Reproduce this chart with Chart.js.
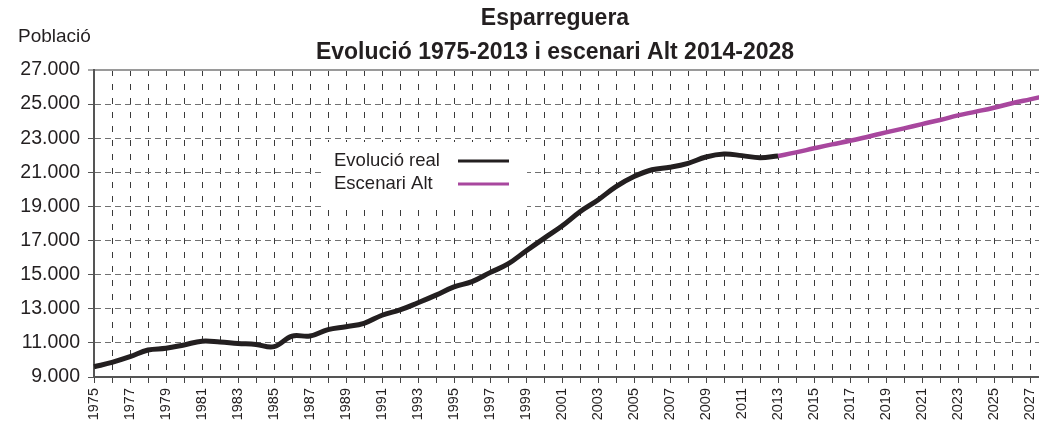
<!DOCTYPE html>
<html>
<head>
<meta charset="utf-8">
<script src="https://cdn.jsdelivr.net/npm/chart.js@4/dist/chart.umd.min.js"></script>
<style>
  html, body { margin: 0; padding: 0; background: #fff; }
  #wrap { width: 1039px; height: 427px; overflow: hidden; position: relative; }
  #chart { display: block; }
</style>
</head>
<body>
<div id="wrap"><canvas id="chart" width="1110" height="427"></canvas></div>
<script>
// Població d'Esparreguera, evolució real i escenari Alt
const years = [];
for (let y = 1975; y <= 2028; y++) years.push(String(y));

const realYears = ['1975','1976','1977','1978','1979','1980','1981','1982','1983','1984',
  '1985','1986','1987','1988','1989','1990','1991','1992','1993','1994',
  '1995','1996','1997','1998','1999','2000','2001','2002','2003','2004',
  '2005','2006','2007','2008','2009','2010','2011','2012','2013'];
const realValues = [9600, 9860, 10190, 10580, 10680, 10880, 11100, 11050, 10970, 10910,
  10780, 11400, 11400, 11780, 11950, 12150, 12620, 12930, 13350, 13800,
  14280, 14590, 15120, 15630, 16390, 17130, 17850, 18690, 19380, 20160,
  20750, 21150, 21300, 21530, 21900, 22070, 21980, 21860, 21960];

const altYears = ['2013','2014','2015','2016','2017','2018','2019','2020','2021','2022',
  '2023','2024','2025','2026','2027','2028'];
const altValues = [21960, 22170, 22410, 22640, 22850, 23090, 23340, 23580, 23830, 24070,
  24340, 24560, 24790, 25050, 25280, 25510];

const yTicks = [9000, 11000, 13000, 15000, 17000, 19000, 21000, 23000, 25000, 27000];

const FONT = "'Liberation Sans', Arial, sans-serif";
const INK = '#231f20';
const PURPLE = '#a8479e';

// align a series to the full year axis
function onAxis(ys, vals) {
  return years.map(y => {
    const i = ys.indexOf(y);
    return i >= 0 ? vals[i] : null;
  });
}

const fmt = v => String(v).replace(/\B(?=(\d{3})+(?!\d))/g, '.');

// legend box, "Població" label, title centred on the original sheet width
const decorPlugin = {
  id: 'decor',
  afterLayout(chart) {
    const t = chart.titleBlock;
    if (t) { t.left += 31; t.right += 31; }
  },
  beforeDatasetsDraw(chart) {
    const ctx = chart.ctx;
    ctx.save();
    ctx.fillStyle = '#fff';
    ctx.fillRect(325, 142, 202, 67);
    ctx.font = '18.5px ' + FONT;
    ctx.textBaseline = 'middle';
    ctx.textAlign = 'left';
    chart.data.datasets.forEach((ds, i) => {
      const y = 161 + i * 23;
      ctx.fillStyle = INK;
      ctx.fillText(ds.label, 334, y);
      ctx.strokeStyle = ds.borderColor;
      ctx.lineWidth = 3;
      ctx.beginPath();
      ctx.moveTo(458, y);
      ctx.lineTo(509, y);
      ctx.stroke();
    });
    ctx.restore();
  },
  afterDraw(chart) {
    const ctx = chart.ctx;
    ctx.save();
    ctx.font = '19px ' + FONT;
    ctx.fillStyle = INK;
    ctx.textBaseline = 'middle';
    ctx.textAlign = 'left';
    ctx.fillText('Població', 18, 37);
    ctx.restore();
  }
};

const isTop = c => c.tick && c.tick.value === yTicks[yTicks.length - 1];
const isBottom = c => c.tick && c.tick.value === yTicks[0];

new Chart(document.getElementById('chart'), {
  type: 'line',
  data: {
    labels: years,
    datasets: [
      {
        label: 'Evolució real',
        data: onAxis(realYears, realValues),
        borderColor: INK,
        borderWidth: 5,
        tension: 0.4,
        pointRadius: 0,
        fill: false
      },
      {
        label: 'Escenari Alt',
        data: onAxis(altYears, altValues),
        borderColor: PURPLE,
        borderWidth: 4.5,
        tension: 0.4,
        pointRadius: 0,
        fill: false
      }
    ]
  },
  options: {
    responsive: false,
    animation: false,
    layout: { padding: { left: 0, right: 62, top: 0, bottom: 0 } },
    plugins: {
      legend: { display: false },
      tooltip: { enabled: false },
      title: {
        display: true,
        text: ['Esparreguera', 'Evolució 1975-2013 i escenari Alt 2014-2028'],
        color: INK,
        font: { family: FONT, size: 23, weight: 'bold', lineHeight: 34 / 23 },
        padding: { top: 2, bottom: 0 }
      }
    },
    scales: {
      x: {
        offset: false,
        afterFit: s => { s.height = 50; },
        grid: {
          color: c => (c.index === 0 ? 'rgba(0,0,0,0)' : '#3a3a3a'),
          lineWidth: 1,
          tickColor: '#444',
          tickLength: 6,
          tickWidth: 1
        },
        border: { color: '#555', width: 2, dash: [6, 8] },
        ticks: {
          autoSkip: false,
          minRotation: 90,
          maxRotation: 90,
          padding: 5,
          color: INK,
          font: { family: FONT, size: 14.5 },
          callback: (v, i) => (i % 2 === 0 ? years[i] : '')
        }
      },
      y: {
        min: yTicks[0],
        max: yTicks[yTicks.length - 1],
        afterFit: s => { s.width = 94; },
        afterBuildTicks: s => { s.ticks = yTicks.map(v => ({ value: v })); },
        grid: {
          color: c => (isTop(c) ? '#9a9a9a' : isBottom(c) ? 'rgba(0,0,0,0)' : '#707070'),
          lineWidth: c => (isTop(c) ? 2 : 1),
          tickColor: '#555',
          tickLength: 6,
          tickWidth: 1
        },
        border: { color: '#555', width: 2, dash: c => (isTop(c) ? [] : [6, 4]) },
        ticks: {
          padding: 8,
          color: INK,
          font: { family: FONT, size: 19.5 },
          callback: v => fmt(v)
        }
      }
    }
  },
  plugins: [decorPlugin]
});
</script>
</body>
</html>
